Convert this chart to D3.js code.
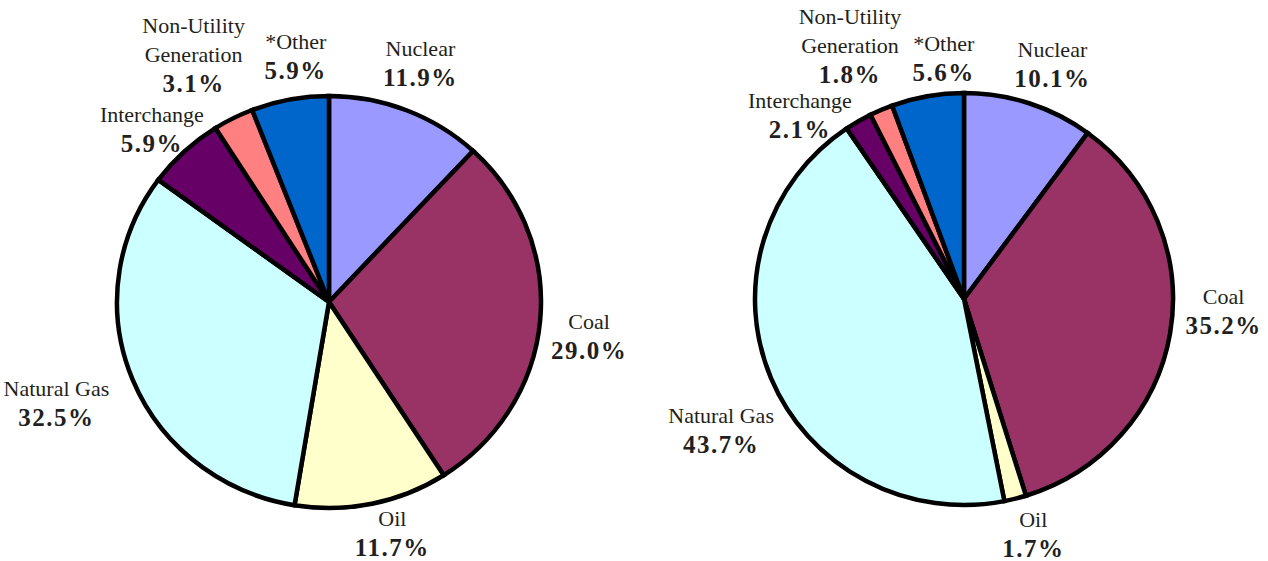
<!DOCTYPE html>
<html>
<head>
<meta charset="utf-8">
<script src="https://cdn.jsdelivr.net/npm/d3@7"></script>
<style>
  body { margin: 0; background: #fff; }
  svg { display: block; }
  text { font-family: "Liberation Serif", "Times New Roman", serif; fill: #231f20; }
</style>
</head>
<body>
<script>
// categories, in clockwise order starting at 12 o'clock
var categories = ["Nuclear", "Coal", "Oil", "Natural Gas", "Interchange", "Non-Utility Generation", "*Other"];
// share of each category (percent), left and right pie
var leftValues  = [11.9, 29.0, 11.7, 32.5, 5.9, 3.1, 5.9];
var rightValues = [10.1, 35.2, 1.7, 43.7, 2.1, 1.8, 5.6];
// label lines for the category names
var nameLines = [["Nuclear"], ["Coal"], ["Oil"], ["Natural Gas"], ["Interchange"], ["Non-Utility", "Generation"], ["*Other"]];

var colors = ["#9999ff", "#993366", "#ffffcc", "#ccffff", "#660066", "#ff8080", "#0066cc"];

var width = 1268, height = 561;

var svg = d3.select("body").append("svg")
    .attr("width", width)
    .attr("height", height);

var color = d3.scaleOrdinal().domain(categories).range(colors);

//draws one pie with its labels
//labels sit just outside the slice middle, nudge moves them like hand placed ones
function drawPie(values, cx, cy, rx, ry, nudge) {
  var data = categories.map(function(c, i) { return { name: c, value: values[i], lines: nameLines[i] }; });

  var pie = d3.pie().sort(null).value(function(d) { return d.value; });
  var arcs = pie(data);
  var arc = d3.arc().innerRadius(0).outerRadius(rx);

  var g = svg.append("g")
      .attr("transform", "translate(" + cx + "," + cy + ") scale(1," + (ry / rx) + ")");

  g.selectAll("path")
    .data(arcs)
    .enter().append("path")
      .attr("d", arc)
      .attr("fill", function(d) { return color(d.data.name); })
      .attr("stroke", "#000")
      .attr("stroke-width", 4.5)
      .attr("stroke-linejoin", "miter")
      .attr("vector-effect", "non-scaling-stroke");

  var lineH = 29;
  var labels = svg.append("g").attr("transform", "translate(" + cx + "," + cy + ")");

  arcs.forEach(function(d) {
    var a = (d.startAngle + d.endAngle) / 2;
    var s = Math.sin(a), c = -Math.cos(a);
    var nLines = d.data.lines.length + 1;
    var blockH = nLines * lineH;
    var blockW = d.data.lines.length > 1 ? 100 : Math.max(50, d.data.name.length * 9.5);
    var rad = rx + 16;
    var x = rad * s + (blockW / 2) * s;
    var y = rad * c * (ry / rx) + (blockH / 2) * c;
    var n = nudge[d.data.name] || [0, 0];
    x += n[0]; y += n[1];

    var t = labels.append("text")
        .attr("text-anchor", "middle")
        .attr("transform", "translate(" + x + "," + (y - blockH / 2) + ")");

    d.data.lines.forEach(function(l, i) {
      t.append("tspan")
        .attr("x", 0)
        .attr("y", (i + 1) * lineH - 7)
        .style("font-size", "22px")
        .text(l);
    });
    t.append("tspan")
      .attr("x", 0)
      .attr("y", nLines * lineH - 6)
      .style("font-size", "25px")
      .style("font-weight", "bold")
      .style("letter-spacing", "1.5px")
      .text(d.data.value.toFixed(1) + "%");
  });
}

drawPie(leftValues, 329, 302, 212, 206, {
  "Nuclear": [-4, -6], "*Other": [14, 0], "Non-Utility Generation": [-10, -11],
  "Interchange": [14, 10], "Coal": [8, 12], "Natural Gas": [-13, 7], "Oil": [12, -14]
});
drawPie(rightValues, 964, 299, 209, 206, {
  "Nuclear": [8, 3], "*Other": [24, 6], "Non-Utility Generation": [-5, -10],
  "Interchange": [-24, 32], "Coal": [13, -29], "Natural Gas": [13, 34], "Oil": [8, -8]
});
</script>
</body>
</html>
